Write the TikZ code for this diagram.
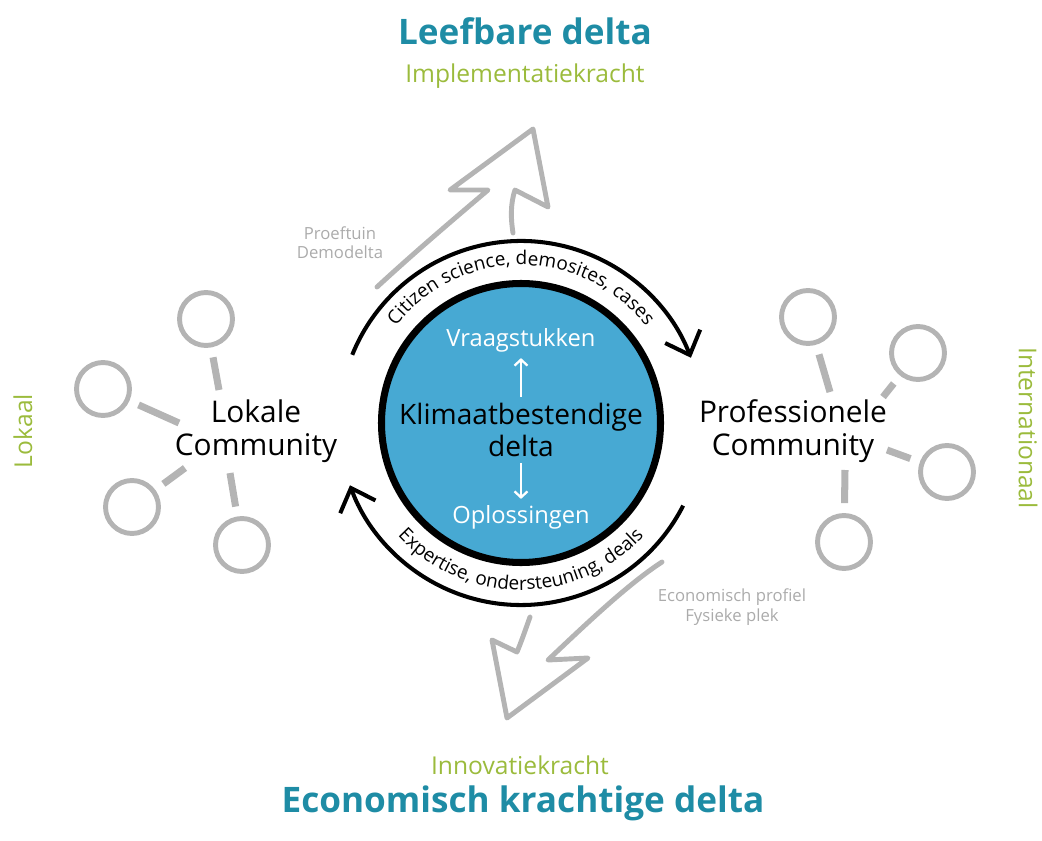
\documentclass[tikz,border=0pt]{standalone}
\usepackage{fontspec}
\setmainfont{Open Sans}
\usepackage{xcolor}
\usetikzlibrary{arrows.meta, positioning, calc, decorations.text}
\definecolor{deltablue}{HTML}{47A9D3}
\definecolor{titleteal}{HTML}{1E8CA5}
\definecolor{krachtgreen}{HTML}{9BBB3C}
\definecolor{netgray}{HTML}{B4B4B4}
\definecolor{notegray}{HTML}{ABABAB}
\tikzset{
        ring/.style={circle, draw=netgray, line width=2.8pt, minimum size=1.06cm, inner sep=0pt},
        link/.style={draw=netgray, line width=4pt, shorten <=0.2cm},
        community/.style={align=center, font=\fontsize{17}{18.5}\selectfont},
        deltatitle/.style={text=titleteal, font=\bfseries\fontsize{20}{22}\selectfont},
        kracht/.style={text=krachtgreen, font=\fontsize{14}{16}\selectfont},
        note/.style={text=notegray, align=center, font=\fontsize{9.5}{11}\selectfont},
        cyclearrow/.style={line width=2.3pt, -{Straight Barb[length=0.4cm, width=0.75cm, line width=2.3pt]}},
        inarrow/.style={draw=white, line width=1.3pt, -{Straight Barb[length=0.12cm, width=0.26cm]}},
        bigarrow/.style={draw=netgray, line width=2.8pt, line join=round, line cap=round},
        incircle/.style={text=white, font=\fontsize{13.5}{15}\selectfont},
    }
\begin{document}
\begin{tikzpicture}[x=0.02cm, y=0.02cm]
        \useasboundingbox (0,0) rectangle (1042,840);

        % === TITLES ===
        \node[deltatitle] (leef) at (525,809) {Leefbare delta};
        \node[kracht] (impl) at (525,764) {Implementatiekracht};
        \node[kracht] (innov) at (520,75) {Innovatiekracht};
        \node[deltatitle] (econ) at (523,37) {Economisch krachtige delta};
        \node[kracht, rotate=90] (lokaal) at (23,409) {Lokaal};
        \node[kracht, rotate=-90] (intl) at (1028,412) {Internationaal};

        % === CENTRE ===
        \coordinate (c) at (521,417);
        \draw[line width=4pt, fill=deltablue] (c) circle (139.5);
        \node[community, text=black, font=\fontsize{16}{18}\selectfont] (klimaat) at (521,410) {Klimaatbestendige\\delta};
        \node[incircle] (vraag) at (521,500) {Vraagstukken};
        \node[incircle] (oplos) at (521,323) {Oplossingen};
        \draw[inarrow] (klimaat) -- (vraag);
        \draw[inarrow] (klimaat) -- (oplos);

        % cycle arrows round the centre
        \draw[cyclearrow] (c) ++(158:182) arc[start angle=158, end angle=21, radius=182];
        \draw[cyclearrow] (c) ++(-27:182) arc[start angle=-27, end angle=-160, radius=182];
        \path[decorate, decoration={text along path, text align=center,
            text={|\fontsize{10.8}{12}\selectfont|Citizen science, demosites, cases}}]
            (c) ++(170:158) arc[start angle=170, end angle=10, radius=158];
        \path[decorate, decoration={text along path, text align=center,
            text={|\fontsize{10.8}{12}\selectfont|Expertise, ondersteuning, deals}}]
            (c) ++(190:167) arc[start angle=190, end angle=350, radius=167];

        % === GRAY ARROWS ===
        \draw[bigarrow] (377,553) .. controls (415,588) and (455,622) .. (488,650) -- (450,650)
            -- (533,711) -- (548,633) -- (515,650) .. controls (510,635) and (511,620) .. (513,607);
        \draw[bigarrow] (662,278) .. controls (628,256) and (585,215) .. (548,180) -- (588,182)
            -- (507,122) -- (492,200) -- (517,188) .. controls (522,200) and (526,212) .. (530,223);
        \node[note] (proef) at (340,597) {Proeftuin\\Demodelta};
        \node[note] (profiel) at (732,233) {Economisch profiel\\Fysieke plek};

        % === LOKALE COMMUNITY ===
        \node[community] (lokale) at (256,409) {Lokale\\Community};
        \node[ring] (l1) at (206,521) {};
        \node[ring] (l2) at (103,451) {};
        \node[ring] (l3) at (132,333) {};
        \node[ring] (l4) at (242,295) {};
        \coordinate (l1e) at (219,450);
        \coordinate (l2e) at (179,417);
        \coordinate (l3e) at (185,372);
        \coordinate (l4e) at (230,367);
        \foreach \i in {1,...,4}
            \draw[link] (l\i) -- (l\i e);

        % === PROFESSIONELE COMMUNITY ===
        \node[community] (prof) at (793,409) {Professionele\\Community};
        \node[ring] (r1) at (808,523) {};
        \node[ring] (r2) at (918,487) {};
        \node[ring] (r3) at (947,368) {};
        \node[ring] (r4) at (844,298) {};
        \coordinate (r1e) at (830,448);
        \coordinate (r2e) at (883,443);
        \coordinate (r3e) at (887,390);
        \coordinate (r4e) at (845,370);
        \foreach \i in {1,...,4}
            \draw[link] (r\i) -- (r\i e);

    \end{tikzpicture}
\end{document}
